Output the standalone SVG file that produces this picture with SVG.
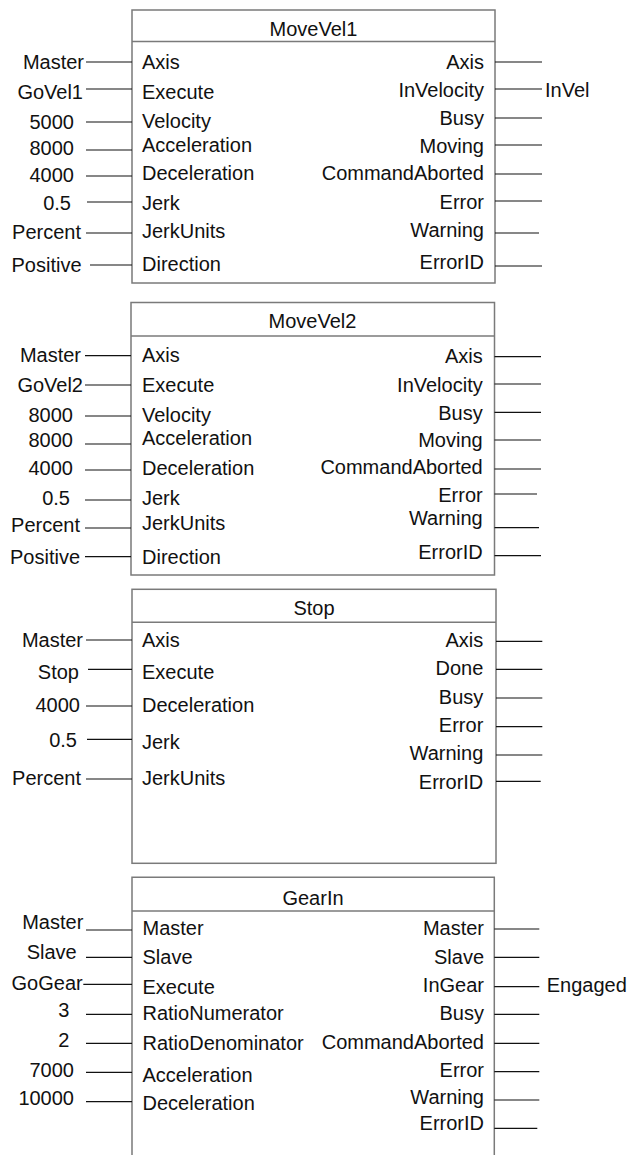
<svg xmlns="http://www.w3.org/2000/svg" width="629" height="1155" viewBox="0 0 629 1155">
<style>
text{font-family:"Liberation Sans",Arial,sans-serif;font-size:20px;fill:#111}
.r{text-anchor:end}
.m{text-anchor:middle}
.box{fill:#fff;stroke:#7a7a7a;stroke-width:1.5}
.div{stroke:#7a7a7a;stroke-width:1.5}
.w line{stroke:#111;stroke-width:1.2}
</style>
<rect width="629" height="1155" fill="#fff"/>

<g id="MoveVel1">
<rect class="box" x="132" y="10" width="363" height="273"/>
<line class="div" x1="132" y1="41.5" x2="495" y2="41.5"/>
<text class="m" x="313.5" y="36">MoveVel1</text>
<text x="142" y="69">Axis</text>
<text x="142" y="98.5">Execute</text>
<text x="142" y="127.5">Velocity</text>
<text x="142" y="152">Acceleration</text>
<text x="142" y="180">Deceleration</text>
<text x="142" y="210">Jerk</text>
<text x="142" y="237.5">JerkUnits</text>
<text x="142" y="271">Direction</text>
<text class="r" x="484" y="68.7">Axis</text>
<text class="r" x="484" y="97">InVelocity</text>
<text class="r" x="484" y="124.5">Busy</text>
<text class="r" x="484" y="153">Moving</text>
<text class="r" x="484" y="180.3">CommandAborted</text>
<text class="r" x="484" y="208.7">Error</text>
<text class="r" x="484" y="237">Warning</text>
<text class="r" x="484" y="268.7">ErrorID</text>
</g>

<g id="MoveVel2">
<rect class="box" x="131" y="302.5" width="363.5" height="272.5"/>
<line class="div" x1="131" y1="336" x2="494.5" y2="336"/>
<text class="m" x="312.5" y="328">MoveVel2</text>
<text x="142" y="362">Axis</text>
<text x="142" y="392">Execute</text>
<text x="142" y="422">Velocity</text>
<text x="142" y="445">Acceleration</text>
<text x="142" y="475">Deceleration</text>
<text x="142" y="505">Jerk</text>
<text x="142" y="530">JerkUnits</text>
<text x="142" y="564">Direction</text>
<text class="r" x="482.7" y="362.7">Axis</text>
<text class="r" x="482.7" y="392">InVelocity</text>
<text class="r" x="482.7" y="420">Busy</text>
<text class="r" x="482.7" y="447">Moving</text>
<text class="r" x="482.7" y="473.7">CommandAborted</text>
<text class="r" x="482.7" y="502">Error</text>
<text class="r" x="482.7" y="525">Warning</text>
<text class="r" x="482.7" y="558.7">ErrorID</text>
</g>

<g id="Stop">
<rect class="box" x="132" y="589.3" width="364" height="274"/>
<line class="div" x1="132" y1="622.3" x2="496" y2="622.3"/>
<text class="m" x="314" y="615">Stop</text>
<text x="142" y="647">Axis</text>
<text x="142" y="678.7">Execute</text>
<text x="142" y="712">Deceleration</text>
<text x="142" y="748.7">Jerk</text>
<text x="142" y="785.3">JerkUnits</text>
<text class="r" x="483.3" y="647">Axis</text>
<text class="r" x="483.3" y="675.3">Done</text>
<text class="r" x="483.3" y="703.7">Busy</text>
<text class="r" x="483.3" y="732">Error</text>
<text class="r" x="483.3" y="760">Warning</text>
<text class="r" x="483.3" y="788.7">ErrorID</text>
</g>

<g id="GearIn">
<path class="box" d="M132 1160 V877.3 H494.3 V1160"/>
<line class="div" x1="132" y1="911" x2="494.3" y2="911"/>
<text class="m" x="313" y="905">GearIn</text>
<text x="142.5" y="935.3">Master</text>
<text x="142.5" y="964.3">Slave</text>
<text x="142.5" y="993.7">Execute</text>
<text x="142.5" y="1020.3">RatioNumerator</text>
<text x="142.5" y="1050.3">RatioDenominator</text>
<text x="142.5" y="1082">Acceleration</text>
<text x="142.5" y="1110.3">Deceleration</text>
<text class="r" x="484" y="935.3">Master</text>
<text class="r" x="484" y="963.7">Slave</text>
<text class="r" x="484" y="992">InGear</text>
<text class="r" x="484" y="1020.3">Busy</text>
<text class="r" x="484" y="1048.7">CommandAborted</text>
<text class="r" x="484" y="1077">Error</text>
<text class="r" x="484" y="1103.7">Warning</text>
<text class="r" x="484" y="1130.3">ErrorID</text>
</g>

<g id="connectors" class="w">
<line x1="86" y1="62" x2="132" y2="62"/>
<line x1="86" y1="89" x2="132" y2="89"/>
<line x1="86" y1="122" x2="132" y2="122"/>
<line x1="86" y1="150" x2="132" y2="150"/>
<line x1="86" y1="176" x2="132" y2="176"/>
<line x1="87" y1="202" x2="132" y2="202"/>
<line x1="86" y1="233" x2="132" y2="233"/>
<line x1="90" y1="265" x2="132" y2="265"/>
<line x1="495" y1="62" x2="542" y2="62"/>
<line x1="495" y1="89" x2="542" y2="89"/>
<line x1="495" y1="118" x2="542" y2="118"/>
<line x1="495" y1="145" x2="542" y2="145"/>
<line x1="495" y1="174" x2="542" y2="174"/>
<line x1="495" y1="201" x2="542" y2="201"/>
<line x1="495" y1="233" x2="539" y2="233"/>
<line x1="495" y1="266" x2="542" y2="266"/>

<line x1="85" y1="355.7" x2="131" y2="355.7"/>
<line x1="85" y1="385" x2="131" y2="385"/>
<line x1="85" y1="416" x2="131" y2="416"/>
<line x1="85" y1="444" x2="131" y2="444"/>
<line x1="85" y1="470" x2="131" y2="470"/>
<line x1="85" y1="500" x2="131" y2="500"/>
<line x1="85" y1="528" x2="131" y2="528"/>
<line x1="85" y1="556.7" x2="131" y2="556.7"/>
<line x1="494.5" y1="356.7" x2="541" y2="356.7"/>
<line x1="494.5" y1="384" x2="541" y2="384"/>
<line x1="494.5" y1="412.3" x2="541" y2="412.3"/>
<line x1="494.5" y1="440" x2="541" y2="440"/>
<line x1="494.5" y1="469" x2="541" y2="469"/>
<line x1="494.5" y1="494" x2="537" y2="494"/>
<line x1="494.5" y1="527.7" x2="539" y2="527.7"/>
<line x1="494.5" y1="555.7" x2="541" y2="555.7"/>

<line x1="86" y1="640" x2="132" y2="640"/>
<line x1="88" y1="669.3" x2="132" y2="669.3"/>
<line x1="86" y1="706" x2="132" y2="706"/>
<line x1="87" y1="739.3" x2="132" y2="739.3"/>
<line x1="86" y1="779" x2="132" y2="779"/>
<line x1="496" y1="641.3" x2="542.3" y2="641.3"/>
<line x1="496" y1="669.3" x2="542.3" y2="669.3"/>
<line x1="496" y1="698" x2="542.3" y2="698"/>
<line x1="496" y1="726.7" x2="542.3" y2="726.7"/>
<line x1="496" y1="755" x2="542.3" y2="755"/>
<line x1="496" y1="781.3" x2="540.7" y2="781.3"/>

<line x1="86" y1="930" x2="132" y2="930"/>
<line x1="86" y1="957.3" x2="132" y2="957.3"/>
<line x1="83.3" y1="984.3" x2="132" y2="984.3"/>
<line x1="86" y1="1014.3" x2="132" y2="1014.3"/>
<line x1="86" y1="1043.3" x2="132" y2="1043.3"/>
<line x1="86" y1="1072.3" x2="132" y2="1072.3"/>
<line x1="86" y1="1101.7" x2="132" y2="1101.7"/>
<line x1="494.3" y1="929" x2="539.3" y2="929"/>
<line x1="494.3" y1="957.3" x2="539.3" y2="957.3"/>
<line x1="494.3" y1="986.7" x2="539.3" y2="986.7"/>
<line x1="494.3" y1="1014.3" x2="539.3" y2="1014.3"/>
<line x1="494.3" y1="1043.3" x2="539.3" y2="1043.3"/>
<line x1="494.3" y1="1071.7" x2="539.3" y2="1071.7"/>
<line x1="494.3" y1="1100" x2="539.3" y2="1100"/>
<line x1="494.3" y1="1128.3" x2="537.3" y2="1128.3"/>
</g>

<g id="values">
<text class="r" x="84" y="69">Master</text>
<text class="r" x="83" y="98.5">GoVel1</text>
<text class="r" x="74" y="128.5">5000</text>
<text class="r" x="74" y="155">8000</text>
<text class="r" x="74" y="182">4000</text>
<text class="r" x="71" y="210">0.5</text>
<text class="r" x="81" y="238.5">Percent</text>
<text class="r" x="81.5" y="272">Positive</text>
<text x="545" y="97">InVel</text>

<text class="r" x="81" y="362">Master</text>
<text class="r" x="83" y="392">GoVel2</text>
<text class="r" x="73" y="422">8000</text>
<text class="r" x="73" y="447">8000</text>
<text class="r" x="73" y="475">4000</text>
<text class="r" x="70" y="505">0.5</text>
<text class="r" x="80" y="532">Percent</text>
<text class="r" x="80" y="564">Positive</text>

<text class="r" x="83" y="647">Master</text>
<text class="r" x="79" y="678.7">Stop</text>
<text class="r" x="80" y="712">4000</text>
<text class="r" x="77" y="747">0.5</text>
<text class="r" x="81" y="785">Percent</text>

<text class="r" x="83.3" y="928.7">Master</text>
<text class="r" x="76.7" y="958.7">Slave</text>
<text class="r" x="82.7" y="990.3">GoGear</text>
<text class="r" x="69.3" y="1017">3</text>
<text class="r" x="69.3" y="1047">2</text>
<text class="r" x="74" y="1077">7000</text>
<text class="r" x="74" y="1105.3">10000</text>
<text x="546.7" y="992">Engaged</text>
</g>
</svg>
